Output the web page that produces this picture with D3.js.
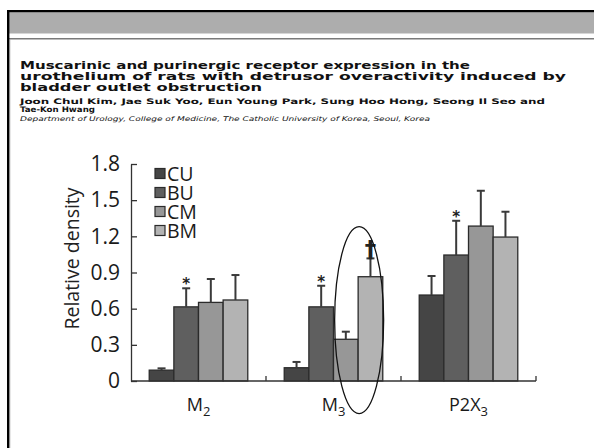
<!DOCTYPE html>
<html>
<head>
<meta charset="utf-8">
<script src="https://cdn.jsdelivr.net/npm/d3@7"></script>
<style>
  body { margin: 0; background: #fff; }
  svg { display: block; }
</style>
</head>
<body>
<div id="chart"></div>
<script>
// data
var groups = ["M2", "M3", "P2X3"];
var groupLabels = [["M", "2", ""], ["M", "3", ""], ["P2X", "3", ""]];
var series = ["CU", "BU", "CM", "BM"];
var means = [
    [0.09, 0.615, 0.652, 0.672],
    [0.11, 0.615, 0.346, 0.865],
    [0.713, 1.045, 1.285, 1.194]
];
var errTops = [
    [0.105, 0.769, 0.846, 0.879],
    [0.158, 0.79, 0.409, 1.017],
    [0.871, 1.329, 1.578, 1.404]
];
var marks = [
    ["", "*", "", ""],
    ["", "*", "", "\u2020"],
    ["", "*", "", ""]
];
var yTicks = [0, 0.3, 0.6, 0.9, 1.2, 1.5, 1.8];

var titleLines = [
    "Muscarinic and purinergic receptor expression in the",
    "urothelium of rats with detrusor overactivity induced by",
    "bladder outlet obstruction"
];
var authorLines = [
    "Joon Chul Kim, Jae Suk Yoo, Eun Young Park, Sung Hoo Hong, Seong Il Seo and",
    "Tae-Kon Hwang"
];
var deptLine = "Department of Urology, College of Medicine, The Catholic University of Korea, Seoul, Korea";

var width = 594, height = 448;
var colors = {CU: "#454545", BU: "#5f5f5f", CM: "#979797", BM: "#b3b3b3"};
var chartFont = "'Open Sans', 'Noto Sans', sans-serif";

var svg = d3.select("#chart").append("svg")
    .attr("width", width)
    .attr("height", height);

svg.append("rect").attr("width", width).attr("height", height).attr("fill", "#fff");

// slide frame
svg.append("rect").attr("x", 9).attr("y", 12).attr("width", width - 9).attr("height", 21.5).attr("fill", "#adadad");
svg.append("rect").attr("x", 9).attr("y", 38).attr("width", width - 9).attr("height", 1.5).attr("fill", "#7a7a7a");
svg.append("rect").attr("x", 7).attr("y", 10).attr("width", width - 7).attr("height", 2.2).attr("fill", "#000");
svg.append("rect").attr("x", 7).attr("y", 10).attr("width", 2.4).attr("height", height - 10).attr("fill", "#000");
svg.append("rect").attr("x", 9.4).attr("y", 39.5).attr("width", 0.8).attr("height", height - 39.5).attr("fill", "#888");

// header text
var head = svg.append("g").attr("font-family", "'DejaVu Sans', Verdana, sans-serif").attr("fill", "#111");
var titleEnds = [470, 566, 262];
titleLines.forEach(function(t, i) {
    head.append("text")
        .attr("x", 20).attr("y", 68.5 + i * 11)
        .attr("font-size", 11.2).attr("font-weight", "bold")
        .attr("textLength", titleEnds[i] - 20).attr("lengthAdjust", "spacingAndGlyphs")
        .text(t);
});
var authorEnds = [545, 95];
authorLines.forEach(function(t, i) {
    head.append("text")
        .attr("x", 20).attr("y", 104 + i * 8.4)
        .attr("font-size", 7.6).attr("font-weight", "bold")
        .attr("textLength", authorEnds[i] - 20).attr("lengthAdjust", "spacingAndGlyphs")
        .text(t);
});
head.append("text")
    .attr("x", 20).attr("y", 121)
    .attr("font-size", 6.4).attr("font-style", "italic")
    .attr("textLength", 410).attr("lengthAdjust", "spacingAndGlyphs")
    .text(deptLine);

// scales
var y = d3.scaleLinear().domain([0, 1.8]).range([381, 164]);
var x0 = d3.scaleBand().domain(groups).range([131, 536]).paddingInner(0.27).paddingOuter(0.135);
var x1 = d3.scaleBand().domain(series).range([0, x0.bandwidth()]);

var g = svg.append("g").attr("font-family", chartFont);

// bars
var groupSel = g.selectAll(".grp").data(groups).enter().append("g")
    .attr("class", "grp")
    .attr("transform", function(d) { return "translate(" + x0(d) + ",0)"; });

function rows(d, gi) {
    return series.map(function(s, si) {
        return {s: s, v: means[gi][si], e: errTops[gi][si], m: marks[gi][si]};
    });
}

groupSel.selectAll("rect").data(rows).enter().append("rect")
    .attr("x", function(d) { return x1(d.s); })
    .attr("y", function(d) { return y(d.v); })
    .attr("width", x1.bandwidth())
    .attr("height", function(d) { return y(0) - y(d.v); })
    .attr("fill", function(d) { return colors[d.s]; })
    .attr("stroke", "#2b2b2b")
    .attr("stroke-width", 1.3);

// error bars (upper only)
var errSel = groupSel.selectAll(".err").data(rows).enter().append("g").attr("class", "err")
    .attr("transform", function(d) { return "translate(" + (x1(d.s) + x1.bandwidth() / 2) + ",0)"; });

errSel.append("line")
    .attr("y1", function(d) { return y(d.v); })
    .attr("y2", function(d) { return y(d.e); })
    .attr("stroke", "#3a3a3a").attr("stroke-width", 2);
errSel.append("line")
    .attr("x1", -4).attr("x2", 4)
    .attr("y1", function(d) { return y(d.e); })
    .attr("y2", function(d) { return y(d.e); })
    .attr("stroke", "#3a3a3a").attr("stroke-width", 2);

errSel.filter(function(d) { return d.m === "*"; }).append("text")
    .attr("y", function(d) { return y(d.e) + 1; })
    .attr("text-anchor", "middle")
    .attr("font-size", 15).attr("font-weight", "bold")
    .attr("font-family", "'DejaVu Sans', sans-serif")
    .attr("fill", "#222")
    .text(function(d) { return d.m; });

errSel.filter(function(d) { return d.m === "\u2020"; }).append("text")
    .attr("y", function(d) { return y(d.e) - 1; })
    .attr("text-anchor", "middle")
    .attr("font-size", 23).attr("font-weight", "bold")
    .attr("font-family", "'DejaVu Sans', sans-serif")
    .attr("fill", "#222")
    .text(function(d) { return d.m; });

// y axis
var yAxis = d3.axisLeft(y)
    .tickValues(yTicks)
    .tickSizeInner(-6)
    .tickSizeOuter(0)
    .tickPadding(11)
    .tickFormat(function(d) { return d === 0 ? "0" : d3.format(".1f")(d); });

var ya = g.append("g").attr("transform", "translate(131,0)").call(yAxis);
ya.selectAll("path, line").attr("stroke", "#333").attr("stroke-width", 1.3);
ya.selectAll("text").attr("font-size", 21).attr("fill", "#1a1a1a").attr("font-family", chartFont);

g.append("text")
    .attr("transform", "translate(79," + ((y(0) + y(1.8)) / 2 - 14) + ") rotate(-90)")
    .attr("text-anchor", "middle")
    .attr("font-size", 19.5)
    .attr("fill", "#222")
    .text("Relative density");

// x axis: baseline plus ticks at group boundaries
var step = x0.step();
var bounds = groups.map(function(d) { return x0(d) + x0.bandwidth() + step * x0.paddingInner() / 2; });
g.append("line")
    .attr("x1", x0.range()[0]).attr("x2", x0.range()[1])
    .attr("y1", y(0)).attr("y2", y(0))
    .attr("stroke", "#333").attr("stroke-width", 1.3);
g.selectAll(".xtick").data(bounds).enter().append("line")
    .attr("class", "xtick")
    .attr("x1", function(d) { return d; }).attr("x2", function(d) { return d; })
    .attr("y1", y(0)).attr("y2", y(0) - 5)
    .attr("stroke", "#333").attr("stroke-width", 1.3);

// group labels with subscripts
var xl = g.selectAll(".xlab").data(groupLabels).enter().append("text")
    .attr("class", "xlab")
    .attr("x", function(d, i) { return x0(groups[i]) + x0.bandwidth() / 2; })
    .attr("y", 411)
    .attr("text-anchor", "middle")
    .attr("font-size", 18)
    .attr("fill", "#1a1a1a");
xl.append("tspan").text(function(d) { return d[0]; });
xl.append("tspan").attr("font-size", 13).attr("dy", 5).text(function(d) { return d[1]; });

// legend
var leg = g.selectAll(".leg").data(series).enter().append("g")
    .attr("class", "leg")
    .attr("transform", function(d, i) { return "translate(155," + (173.5 + i * 19) + ")"; });
leg.append("rect")
    .attr("x", 0).attr("y", -5).attr("width", 10).attr("height", 10)
    .attr("fill", function(d) { return colors[d]; })
    .attr("stroke", "#2b2b2b").attr("stroke-width", 1.2);
leg.append("text")
    .attr("x", 12).attr("y", 7)
    .attr("font-size", 19.5)
    .attr("fill", "#1a1a1a")
    .text(function(d) { return d; });

// highlight ellipse around M3 CM/BM
g.append("ellipse")
    .attr("cx", x0("M3") + x1("BM") + 1)
    .attr("cy", (y(1.28) + y(-0.27)) / 2)
    .attr("rx", 24.5)
    .attr("ry", (y(-0.27) - y(1.28)) / 2)
    .attr("fill", "none")
    .attr("stroke", "#111")
    .attr("stroke-width", 1.3);
</script>
</body>
</html>
